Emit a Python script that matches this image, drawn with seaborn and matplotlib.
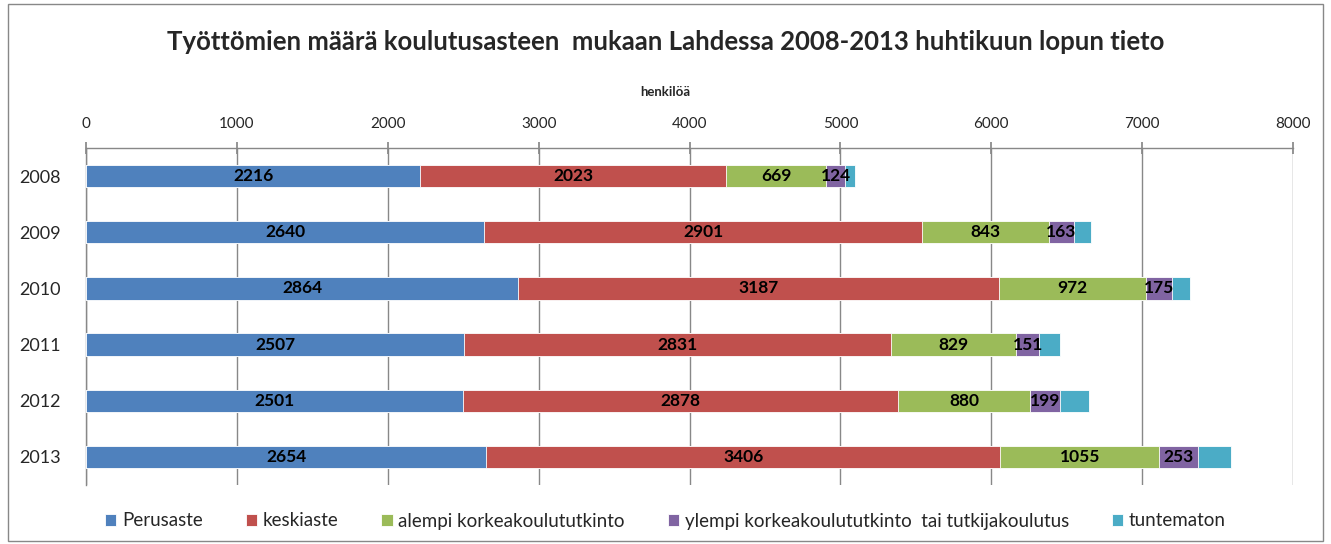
import numpy as np
import pandas as pd
import matplotlib
matplotlib.use("Agg")
import matplotlib.pyplot as plt
import seaborn as sns
from matplotlib.patches import Rectangle

# 数据
years = ["2008", "2009", "2010", "2011", "2012", "2013"]
series_names = ["Perusaste", "keskiaste", "alempi korkeakoulututkinto",
                "ylempi korkeakoulututkinto  tai tutkijakoulutus", "tuntematon"]
perusaste = [2216, 2640, 2864, 2507, 2501, 2654]
keskiaste = [2023, 2901, 3187, 2831, 2878, 3406]
alempi = [669, 843, 972, 829, 880, 1055]
ylempi = [124, 163, 175, 151, 199, 253]
tuntematon = [62, 113, 118, 140, 187, 219]
colors = ["#4F81BD", "#C0504D", "#9BBB59", "#8064A2", "#4BACC6"]
x_ticks = [0, 1000, 2000, 3000, 4000, 5000, 6000, 7000, 8000]

sns.set_theme(style="white")
plt.rcParams["font.family"] = ["Lato", "DejaVu Sans"]

values = [perusaste, keskiaste, alempi, ylempi, tuntematon]
cum = np.cumsum(np.array(values), axis=0)

fig = plt.figure(figsize=(13.31, 5.44), dpi=100)
ax = fig.add_axes([86 / 1331, 1 - 485 / 544, (1293 - 86) / 1331, (485 - 148) / 544])

# 堆叠：从最右侧的累计值开始画，后画的覆盖前面的
for i in range(len(values) - 1, -1, -1):
    df = pd.DataFrame({"year": years, "total": cum[i]})
    sns.barplot(data=df, x="total", y="year", color=colors[i], orient="h",
                width=0.4, ax=ax, edgecolor="white", linewidth=0.6,
                saturation=1, label=series_names[i], zorder=3)

# 数值标签（tuntematon 无标签）
for i in range(4):
    for j in range(len(years)):
        left = cum[i][j] - values[i][j]
        ax.text(left + values[i][j] / 2, j, str(values[i][j]), ha="center",
                va="center", fontsize=12.5, fontweight="bold", color="black", zorder=5)

ax.set_xlim(0, 8000)
ax.set_ylim(5.5, -0.5)
ax.xaxis.tick_top()
ax.set_xticks(x_ticks)
ax.set_xticklabels([str(t) for t in x_ticks], fontsize=11)
ax.tick_params(axis="x", length=8, direction="inout", color="#888888", pad=8)
ax.set_yticks(range(len(years)))
ax.set_yticklabels(years, fontsize=13)
ax.set_yticks(np.arange(-0.5, 6, 1), minor=True)
ax.tick_params(axis="y", which="major", length=0, pad=18)
ax.tick_params(axis="y", which="minor", length=6, color="#888888", direction="out")
ax.set_xlabel("")
ax.set_ylabel("")
ax.grid(True, axis="x", color="#888888", linewidth=1, zorder=0)
ax.set_axisbelow(True)
for s in ["right", "bottom"]:
    ax.spines[s].set_visible(False)
for s in ["top", "left"]:
    ax.spines[s].set_color("#888888")
    ax.spines[s].set_linewidth(1)

fig.text(0.5, 1 - 92 / 544, "henkilöä", ha="center", va="center",
         fontsize=9.5, fontweight="bold")
fig.text(0.5, 1 - 42 / 544,
         "Työttömien määrä koulutusasteen  mukaan Lahdessa 2008-2013 huhtikuun lopun tieto",
         ha="center", va="center", fontsize=18.5, fontweight="bold")

handles, labels = ax.get_legend_handles_labels()
ax.legend(handles[::-1], labels[::-1], loc="center", ncol=5,
          bbox_to_anchor=(0.5, 1 - 521 / 544), bbox_transform=fig.transFigure,
          frameon=False, fontsize=13.5, handlelength=0.6, handleheight=0.6,
          handletextpad=0.3, columnspacing=2.3)

fig.patches.append(Rectangle((8 / 1331, 3 / 544), 1315 / 1331, 537 / 544,
                             transform=fig.transFigure, fill=False,
                             edgecolor="#888888", linewidth=1))

fig.savefig("out.png", dpi=100)
